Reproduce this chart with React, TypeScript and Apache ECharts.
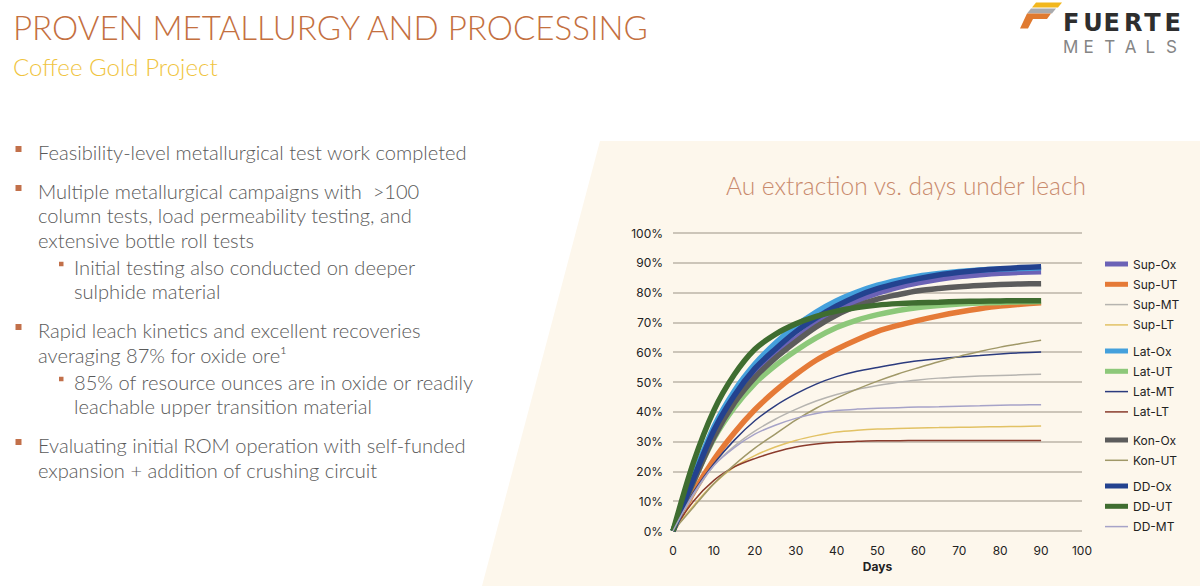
import React, { useEffect, useRef } from "react";
import * as echarts from "echarts";

// ---------------- data ----------------
const days = [0, 5, 10, 15, 20, 25, 30, 35, 40, 45, 50, 55, 60, 65, 70, 75, 80, 85, 90];

const supOx = [0, 16.5, 32, 43.5, 52.5, 59, 64.5, 69.5, 73.8, 77.2, 79.8, 81.8, 83.3, 84.5, 85.4, 86, 86.5, 86.8, 87];
const supUT = [0, 13, 24, 33, 40.7, 47, 52.5, 57.3, 61, 64.2, 67, 69, 70.7, 72.2, 73.5, 74.6, 75.5, 76.1, 76.6];
const supMT = [0, 12, 22, 28.5, 33.5, 37.5, 40.8, 43.6, 45.8, 47.5, 48.8, 49.9, 50.7, 51.3, 51.7, 52, 52.2, 52.4, 52.6];
const supLT = [0, 8.5, 15.9, 21.5, 25.3, 28.2, 30.4, 32, 33.2, 33.8, 34.2, 34.4, 34.6, 34.7, 34.8, 34.9, 35, 35.1, 35.2];
const latOx = [0, 18.5, 35, 47, 56, 63, 68.8, 73.5, 77.3, 80.2, 82.5, 84.2, 85.5, 86.4, 87.1, 87.6, 87.9, 88.1, 88.3];
const latUT = [0, 16.5, 31, 41.5, 49.5, 55.5, 60.5, 64.8, 68.3, 70.8, 72.6, 74, 75, 75.7, 76.2, 76.5, 76.7, 76.9, 77];
const latMT = [0, 13, 22.6, 30.5, 37, 42, 46, 49.3, 51.8, 53.6, 54.9, 56.1, 57.1, 57.8, 58.4, 58.9, 59.4, 59.8, 60.1];
const latLT = [0, 10, 17, 21.5, 24.3, 26.5, 28.2, 29.2, 29.8, 30.1, 30.3, 30.3, 30.4, 30.4, 30.4, 30.4, 30.4, 30.4, 30.4];
const konOx = [0, 16.5, 31.5, 43, 51.5, 58, 63.5, 68.5, 72.5, 75.5, 77.8, 79.3, 80.6, 81.4, 82, 82.4, 82.7, 82.9, 83];
const konUT = [0, 8, 15.9, 22.2, 27.8, 32.5, 37.2, 41.2, 44.6, 47.6, 50.3, 52.7, 54.8, 56.8, 58.6, 60.2, 61.7, 62.9, 64];
const ddOx = [0, 17.5, 33.8, 45.5, 54.5, 61, 66.8, 71.5, 75.5, 78.8, 81.3, 83.2, 84.7, 85.9, 86.8, 87.5, 88, 88.4, 88.7];
const ddUT = [0, 23, 40.5, 52.5, 61, 66, 69.5, 72, 73.8, 75, 75.8, 76.3, 76.6, 76.8, 77, 77.1, 77.2, 77.3, 77.3];
const ddMT = [0, 12.5, 22, 28, 32.5, 35.5, 37.8, 39.4, 40.4, 40.9, 41.2, 41.4, 41.6, 41.7, 41.9, 42, 42.2, 42.3, 42.4];

const seriesNames = [
  "Sup-Ox", "Sup-UT", "Sup-MT", "Sup-LT",
  "Lat-Ox", "Lat-UT", "Lat-MT", "Lat-LT",
  "Kon-Ox", "Kon-UT",
  "DD-Ox", "DD-UT", "DD-MT",
];
const seriesValues = [
  supOx, supUT, supMT, supLT,
  latOx, latUT, latMT, latLT,
  konOx, konUT,
  ddOx, ddUT, ddMT,
];

const xTicks = [0, 10, 20, 30, 40, 50, 60, 70, 80, 90, 100];
const yTicks = [0, 10, 20, 30, 40, 50, 60, 70, 80, 90, 100];

// ---------------- styles ----------------
const seriesColors = [
  "#6b62b6", "#e57a37", "#b6b4b0", "#e2c265",
  "#44a0dc", "#8dc87a", "#2b3b7e", "#8a3b2c",
  "#5c5c5c", "#a09868",
  "#23428f", "#3f6d30", "#a6a3c8",
];
const seriesThick = [
  true, true, false, false,
  true, true, false, false,
  true, false,
  true, true, false,
];
const legendGroups = [
  { members: [0, 1, 2, 3], top: 257 },
  { members: [4, 5, 6, 7], top: 344 },
  { members: [8, 9], top: 433 },
  { members: [10, 11, 12], top: 479 },
];

const FONT = "Inter, 'Noto Sans', sans-serif";
const LIGHT = "Lato, Inter, sans-serif";

const bulletLines = [
  { text: "Feasibility-level metallurgical test work completed", y: 153, level: 1, bullet: true },
  { text: "Multiple metallurgical campaigns with  >100", y: 192, level: 1, bullet: true },
  { text: "column tests, load permeability testing, and", y: 216, level: 1, bullet: false },
  { text: "extensive bottle roll tests", y: 241, level: 1, bullet: false },
  { text: "Initial testing also conducted on deeper", y: 268, level: 2, bullet: true },
  { text: "sulphide material", y: 292, level: 2, bullet: false },
  { text: "Rapid leach kinetics and excellent recoveries", y: 331, level: 1, bullet: true },
  { text: "averaging 87% for oxide ore\u00B9", y: 356, level: 1, bullet: false },
  { text: "85% of resource ounces are in oxide or readily", y: 383, level: 2, bullet: true },
  { text: "leachable upper transition material", y: 407, level: 2, bullet: false },
  { text: "Evaluating initial ROM operation with self-funded", y: 446, level: 1, bullet: true },
  { text: "expansion + addition of crushing circuit", y: 471, level: 1, bullet: false },
];

const metalsLetters = ["M", "E", "T", "A", "L", "S"];
const fuerteLetters = ["F", "U", "E", "R", "T", "E"];

function buildGraphic() {
  const els: any[] = [];
  els.push({
    type: "polygon",
    z: -10,
    shape: { points: [[600, 141], [1200, 141], [1200, 586], [482, 586]] },
    style: { fill: "#fdf7ec" },
    silent: true,
  });
  els.push({
    type: "text",
    x: 13,
    y: 27,
    style: {
      text: "PROVEN METALLURGY AND PROCESSING",
      fontFamily: LIGHT,
      fontWeight: 300,
      fontSize: 33.1,
      fill: "#c4703f",
      align: "left",
      verticalAlign: "middle",
    },
  });
  els.push({
    type: "text",
    x: 13,
    y: 66,
    style: {
      text: "Coffee Gold Project",
      fontFamily: LIGHT,
      fontWeight: 300,
      fontSize: 24.1,
      fill: "#f0c43e",
      align: "left",
      verticalAlign: "middle",
    },
  });
  bulletLines.forEach((l) => {
    const tx = l.level === 1 ? 38 : 74;
    els.push({
      type: "text",
      x: tx,
      y: l.y - 1,
      style: {
        text: l.text,
        fontFamily: LIGHT,
        fontWeight: 300,
        fontSize: 20.1,
        fill: "#5a5a5a",
        align: "left",
        verticalAlign: "middle",
      },
    });
    if (l.bullet) {
      const s = l.level === 1 ? 6 : 4.5;
      const bx = l.level === 1 ? 15.5 : 59;
      els.push({
        type: "rect",
        shape: { x: bx, y: l.y - 5 - s / 2 + 1, width: s, height: s },
        style: { fill: "#c2704a" },
      });
    }
  });
  // logo mark
  els.push({
    type: "polygon",
    shape: { points: [[1036, 2.5], [1062, 2.5], [1058, 7.5], [1032, 7.5]] },
    style: { fill: "#f2b71e" },
  });
  els.push({
    type: "polygon",
    shape: { points: [[1031, 8.5], [1056, 8.5], [1052, 13.5], [1027, 13.5]] },
    style: { fill: "#a9aaad" },
  });
  els.push({
    type: "polygon",
    shape: {
      points: [[1027, 13.5], [1051, 13.5], [1047, 19], [1033, 19], [1028, 28.5], [1020, 28.5]],
    },
    style: { fill: "#e07a30" },
  });
  fuerteLetters.forEach((ch, i) => {
    els.push({
      type: "text",
      x: 1063 + i * 20.3,
      y: 23,
      style: {
        text: ch,
        fontFamily: "'DejaVu Sans', sans-serif",
        fontWeight: "bold",
        fontSize: 24,
        fill: "#2e2e2e",
        align: "left",
        verticalAlign: "middle",
      },
    });
  });
  metalsLetters.forEach((ch, i) => {
    els.push({
      type: "text",
      x: 1063 + i * 20.6,
      y: 46.5,
      style: {
        text: ch,
        fontFamily: FONT,
        fontWeight: 400,
        fontSize: 17,
        fill: "#858585",
        align: "left",
        verticalAlign: "middle",
      },
    });
  });
  return els;
}

function buildOption() {
  const series = seriesNames.map((name, i) => ({
    name,
    type: "line",
    data: days.map((d, k) => [d, seriesValues[i][k]]),
    smooth: 0.3,
    symbol: "none",
    showSymbol: false,
    color: seriesColors[i],
    lineStyle: { width: seriesThick[i] ? 5.5 : 1.5, color: seriesColors[i] },
    itemStyle: { color: seriesColors[i] },
    z: 2 + i * 0.01,
  }));

  const legends = legendGroups.map((g) => ({
    orient: "vertical",
    left: 1105,
    top: g.top,
    padding: 0,
    itemWidth: 23,
    itemHeight: 14,
    itemGap: 6.3,
    selectedMode: false,
    textStyle: { fontFamily: FONT, fontSize: 12, color: "#222", lineHeight: 14 },
    data: g.members.map((idx) => ({
      name: seriesNames[idx],
      icon: seriesThick[idx] ? "path://M0,0H23V5H0Z" : "path://M0,0H23V1.5H0Z",
      itemStyle: { color: seriesColors[idx] },
    })),
  }));

  return {
    animation: false,
    backgroundColor: "#ffffff",
    graphic: { elements: buildGraphic() },
    title: {
      text: "Au extraction vs. days under leach",
      left: 906,
      top: 185,
      padding: 0,
      textAlign: "center",
      textVerticalAlign: "middle",
      textStyle: { fontFamily: LIGHT, fontWeight: 300, fontSize: 24.5, color: "#c98a6c" },
    },
    legend: legends,
    grid: { left: 673, right: 118, top: 233, bottom: 55, containLabel: false },
    xAxis: {
      type: "value",
      min: xTicks[0],
      max: xTicks[xTicks.length - 1],
      interval: 10,
      name: "Days",
      nameLocation: "middle",
      nameGap: 27,
      nameTextStyle: { fontFamily: FONT, fontWeight: "bold", fontSize: 12, color: "#222" },
      axisLine: { show: false },
      axisTick: { show: false },
      splitLine: { show: false },
      axisLabel: { fontFamily: FONT, fontSize: 12, color: "#222", margin: 13 },
    },
    yAxis: {
      type: "value",
      min: yTicks[0],
      max: yTicks[yTicks.length - 1],
      interval: 10,
      axisLine: { show: false },
      axisTick: { show: false },
      splitLine: { show: true, lineStyle: { color: "#bbb4a8", width: 1.5 } },
      axisLabel: {
        fontFamily: FONT,
        fontSize: 12,
        color: "#222",
        margin: 10,
        formatter: "{value}%",
      },
    },
    series,
  };
}

export default function App() {
  const ref = useRef<HTMLDivElement>(null);
  useEffect(() => {
    document.body.style.margin = "0";
    if (!ref.current) return;
    const chart = echarts.init(ref.current, undefined, { renderer: "svg" });
    chart.setOption(buildOption() as any);
    return () => chart.dispose();
  }, []);
  return (
    <div
      ref={ref}
      style={{ position: "absolute", left: 0, top: 0, width: 1200, height: 586, background: "#fff" }}
    />
  );
}
